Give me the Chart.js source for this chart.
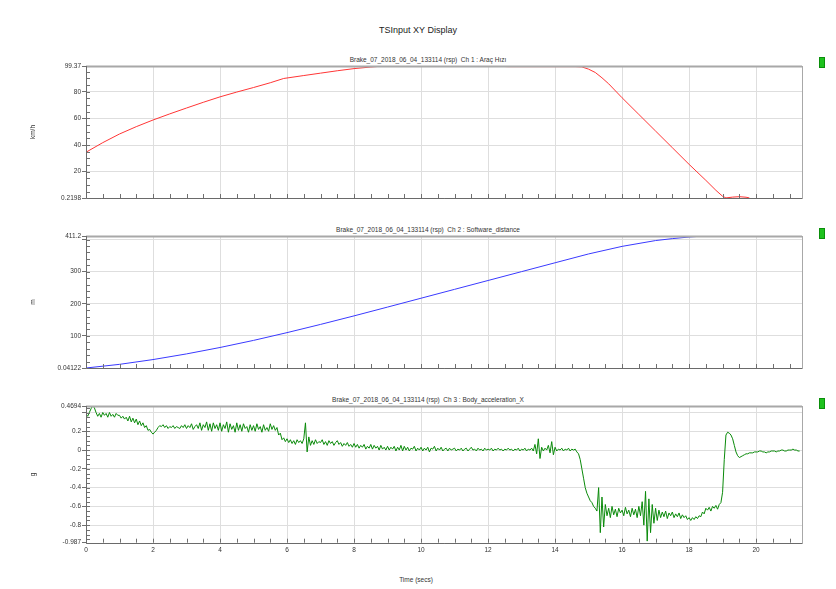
<!DOCTYPE html>
<html lang="en">
<head>
<meta charset="UTF-8">
<title>TSInput XY Display</title>
<script src="https://cdn.jsdelivr.net/npm/chart.js"></script>
<style>
  body { margin: 0; background: #fff; font-family: "Liberation Sans", Arial, sans-serif; }
  #page { position: relative; width: 836px; height: 589px; overflow: hidden; }
  .box { position: absolute; left: 20px; width: 816px; }
  .mark { position: absolute; left: 819px; width: 4px; height: 9px; background: #1ec21e; border: 1px solid #0b8f0b; }
  .sub { position: absolute; left: 228px; width: 400px; text-align: center; font-size: 6.5px; line-height: 8px; color: #333; white-space: pre; }
  #mainTitle { position: absolute; top: 25px; left: 0; width: 836px; text-align: center; font-size: 9px; color: #222; }
  #xTitle { position: absolute; top: 576px; left: 0; width: 832px; text-align: center; font-size: 6.5px; color: #333; }
</style>
</head>
<body>
<div id="page">
  <div id="mainTitle">TSInput XY Display</div>
  <div class="sub" id="sub1" style="top:55.5px;"></div>
  <div class="sub" id="sub2" style="top:226px;"></div>
  <div class="sub" id="sub3" style="top:396px;"></div>
  <div class="box" style="top:48px;height:160px;"><canvas id="speedChart"></canvas></div>
  <div class="box" style="top:218px;height:160px;"><canvas id="distChart"></canvas></div>
  <div class="box" style="top:388px;height:173px;"><canvas id="accChart"></canvas></div>
  <div class="mark" style="top:57px;"></div>
  <div class="mark" style="top:228px;"></div>
  <div class="mark" style="top:398px;"></div>
  <div id="xTitle">Time (secs)</div>
</div>

<script>
// ---- data ----
const fileName = 'Brake_07_2018_06_04_133114 (rsp)';
const timeMax = 21.37;
const timeTicks = [0, 2, 4, 6, 8, 10, 12, 14, 16, 18, 20];

// Ch 1 : vehicle speed (km/h)
const speedName = 'Ch 1 : Araç Hızı';
const speedMin = 0.2198, speedMax = 99.37;
const speedTicks = [20, 40, 60, 80];
const speedT = [0, 0.5, 1, 1.5, 2, 2.5, 3, 3.5, 4, 4.5, 5, 5.5, 5.9, 6.5, 7, 7.5, 8, 8.5, 8.9, 10, 12, 12.6, 14, 14.6, 14.8,
  15, 15.2, 15.4, 15.6, 16, 16.5, 17, 17.5, 18, 18.5, 18.8, 19, 19.1, 19.3, 19.5, 19.7, 19.8];
const speedV = [34.6, 41.8, 48.3, 53.8, 58.8, 63.4, 67.8, 72.1, 76.2, 79.8, 83.2, 86.8, 90.0, 92.2, 94.0, 95.8, 97.4, 98.6, 99.37, 99.37, 99.37, 98.9, 98.9, 98.9, 98.7,
  97.0, 94.5, 90.5, 86.0, 75.5, 63.0, 50.5, 38.0, 25.5, 13.5, 6.0, 1.5, 0.3, 0.9, 1.2, 0.8, 0.3];

// Ch 2 : distance (m)
const distName = 'Ch 2 : Software_distance';
const distMin = 0.04122, distMax = 411.2;
const distTicks = [100, 200, 300, 400];
const distT = [0, 1, 2, 3, 4, 5, 6, 7, 8, 9, 10, 11, 12, 13, 14, 15, 16, 17, 17.5, 18, 18.3, 18.6];
const distV = [0.04, 11.4, 26.3, 43.9, 63.9, 86.0, 110.2, 135.8, 162.4, 189.8, 217.4, 245.0, 272.6, 300.2, 327.8, 355.3, 378.9, 397.0, 403.0, 408.0, 410.2, 411.2];

// Ch 3 : body acceleration X (g), one sample every 0.05 s, one line per second
const accName = 'Ch 3 : Body_acceleration_X';
const accMin = -0.987, accMax = 0.4694;
const accTicks = [-0.8, -0.6, -0.4, -0.2, 0, 0.2, 0.4];
const accStep = 0.05;
const accV = [
  0.38, 0.36, 0.40, 0.44, 0.47, 0.45, 0.40, 0.36, 0.39, 0.35, 0.40, 0.37, 0.39, 0.35, 0.40, 0.36, 0.38, 0.35, 0.39, 0.37,
  0.37, 0.34, 0.36, 0.33, 0.35, 0.31, 0.36, 0.30, 0.34, 0.29, 0.33, 0.27, 0.31, 0.26, 0.29, 0.24, 0.26, 0.21, 0.22, 0.19,
  0.17, 0.19, 0.21, 0.24, 0.26, 0.25, 0.27, 0.24, 0.26, 0.23, 0.25, 0.24, 0.26, 0.23, 0.25, 0.24, 0.23, 0.26, 0.24, 0.27,
  0.23, 0.26, 0.24, 0.28, 0.22, 0.25, 0.27, 0.23, 0.29, 0.21, 0.27, 0.24, 0.30, 0.21, 0.28, 0.20, 0.29, 0.23, 0.27, 0.21,
  0.29, 0.20, 0.27, 0.23, 0.30, 0.19, 0.28, 0.22, 0.26, 0.19, 0.29, 0.21, 0.27, 0.20, 0.28, 0.23, 0.25, 0.19, 0.27, 0.21,
  0.26, 0.20, 0.28, 0.22, 0.25, 0.19, 0.27, 0.21, 0.24, 0.20, 0.28, 0.22, 0.26, 0.21, 0.24, 0.16, 0.18, 0.11, 0.13, 0.09,
  0.12, 0.08, 0.11, 0.07, 0.10, 0.06, 0.11, 0.08, 0.10, 0.07, 0.12, 0.29, -0.02, 0.14, 0.05, 0.10, 0.06, 0.11, 0.07, 0.09,
  0.08, 0.11, 0.06, 0.09, 0.05, 0.10, 0.07, 0.09, 0.05, 0.08, 0.10, 0.06, 0.08, 0.04, 0.07, 0.05, 0.08, 0.04, 0.06, 0.03,
  0.07, 0.03, 0.06, 0.02, 0.05, 0.03, 0.06, 0.01, 0.04, 0.02, 0.06, 0.01, 0.05, 0.02, 0.04, 0.00, 0.05, 0.01, 0.03, 0.00,
  0.04, 0.00, 0.03, 0.01, 0.04, -0.01, 0.03, 0.00, 0.05, -0.01, 0.04, 0.00, 0.03, -0.01, 0.02, 0.01, 0.04, -0.01, 0.02, 0.00,
  0.03, -0.01, 0.02, 0.00, 0.03, -0.02, 0.02, 0.01, 0.04, -0.01, 0.02, 0.00, 0.03, -0.01, 0.01, 0.02, -0.01, 0.02, 0.00, 0.01,
  0.02, -0.01, 0.01, 0.00, 0.02, -0.01, 0.01, 0.02, -0.01, 0.01, 0.03, 0.00, 0.01, -0.01, 0.02, 0.00, 0.01, -0.01, 0.02, 0.00,
  0.01, 0.00, 0.02, -0.01, 0.01, 0.00, 0.02, 0.00, 0.01, -0.01, 0.01, 0.00, 0.02, 0.00, 0.01, -0.01, 0.01, 0.00, 0.02, -0.01,
  0.01, 0.00, 0.02, -0.01, 0.01, 0.00, 0.02, -0.01, 0.06, -0.04, 0.12, -0.09, 0.03, -0.01, 0.02, 0.00, 0.05, -0.03, 0.09, -0.05,
  0.03, -0.01, 0.01, 0.00, 0.02, -0.01, 0.01, 0.00, 0.02, -0.01, 0.01, 0.00, 0.01, -0.02, -0.04, -0.10, -0.20, -0.30, -0.40, -0.46,
  -0.50, -0.54, -0.56, -0.60, -0.62, -0.65, -0.40, -0.88, -0.50, -0.82, -0.58, -0.70, -0.62, -0.72, -0.60, -0.69, -0.63, -0.71, -0.62, -0.67,
  -0.64, -0.70, -0.61, -0.68, -0.64, -0.71, -0.62, -0.69, -0.63, -0.72, -0.60, -0.70, -0.55, -0.80, -0.44, -0.97, -0.52, -0.88, -0.58, -0.78,
  -0.62, -0.75, -0.64, -0.72, -0.66, -0.71, -0.65, -0.73, -0.67, -0.70, -0.66, -0.72, -0.68, -0.71, -0.67, -0.73, -0.69, -0.72, -0.70, -0.74,
  -0.72, -0.75, -0.72, -0.74, -0.71, -0.73, -0.70, -0.71, -0.66, -0.68, -0.62, -0.64, -0.61, -0.65, -0.60, -0.62, -0.59, -0.63, -0.58, -0.56,
  -0.45, -0.10, 0.16, 0.19, 0.18, 0.16, 0.12, 0.05, -0.02, -0.06, -0.08, -0.07, -0.06, -0.05, -0.04, -0.04, -0.03, -0.03, -0.03, -0.02,
  -0.02, -0.02, -0.01, -0.01, -0.02, -0.02, -0.03, -0.02, -0.02, -0.01, -0.01, -0.01, -0.02, -0.01, -0.01, 0.00, 0.00, -0.01, -0.01, 0.00,
  0.00, 0.00, 0.01, 0.00, 0.00, -0.01, -0.01
];

// ---- drawing ----
const FONT = '"Liberation Sans", Arial, sans-serif';

// minor ticks (inward) and plot frame, drawn over the data
const framePlugin = {
  id: 'frame',
  afterDatasetsDraw(chart, args, opts) {
    const { ctx, chartArea: a, scales } = chart;
    ctx.save();
    ctx.strokeStyle = '#707070';
    ctx.lineWidth = 1;
    ctx.beginPath();
    const n0 = Math.ceil(opts.min / opts.minorY), n1 = Math.floor(opts.max / opts.minorY);
    for (let i = n0; i <= n1; i++) {
      const y = Math.round(scales.y.getPixelForValue(i * opts.minorY)) + 0.5;
      ctx.moveTo(a.left, y); ctx.lineTo(a.left + 4, y);
    }
    for (let i = 1; i * 0.5 < timeMax; i++) {
      const x = Math.round(scales.x.getPixelForValue(i * 0.5)) + 0.5;
      ctx.moveTo(x, a.bottom); ctx.lineTo(x, a.bottom - 4);
    }
    ctx.stroke();
    // frame
    ctx.strokeStyle = '#a8a8a8';
    ctx.strokeRect(Math.round(a.left) + 0.5, Math.round(a.top) + 0.5, Math.round(a.right - a.left), Math.round(a.bottom - a.top));
    ctx.lineWidth = 2;
    ctx.beginPath();
    ctx.moveTo(a.left, Math.round(a.top) + 0.5); ctx.lineTo(a.right, Math.round(a.top) + 0.5);
    ctx.stroke();
    ctx.lineWidth = 1;
    ctx.strokeStyle = '#6a6a6a';
    ctx.beginPath();
    ctx.moveTo(Math.round(a.left) + 0.5, a.top); ctx.lineTo(Math.round(a.left) + 0.5, Math.round(a.bottom) + 0.5);
    ctx.lineTo(a.right, Math.round(a.bottom) + 0.5);
    ctx.stroke();
    ctx.restore();
  }
};

function makeChart(id, subId, cfg) {
  document.getElementById(subId).textContent = fileName + '  ' + cfg.name;
  const pts = cfg.t.map((t, i) => ({ x: t, y: cfg.v[i] }));
  const yTickList = [cfg.min].concat(cfg.ticks, [cfg.max]);
  new Chart(document.getElementById(id), {
    type: 'line',
    data: {
      datasets: [{
        data: pts,
        borderColor: cfg.color,
        borderWidth: 1,
        pointRadius: 0,
        tension: 0,
        fill: false
      }]
    },
    options: {
      responsive: true,
      maintainAspectRatio: false,
      animation: false,
      layout: { padding: { top: 18, right: 34, bottom: cfg.bottomPad, left: 0 } },
      plugins: {
        legend: { display: false },
        tooltip: { enabled: false },
        frame: { min: cfg.min, max: cfg.max, minorY: cfg.minorY }
      },
      scales: {
        x: {
          type: 'linear',
          min: 0,
          max: timeMax,
          afterBuildTicks: (s) => { s.ticks = timeTicks.map(v => ({ value: v })); },
          grid: {
            drawTicks: false,
            color: (c) => (c.tick && c.tick.value === 0) ? 'rgba(0,0,0,0)' : '#dedede'
          },
          border: { display: false },
          ticks: {
            display: cfg.showX,
            padding: 4,
            color: '#333',
            font: { family: FONT, size: 6.5 },
            maxRotation: 0
          }
        },
        y: {
          type: 'linear',
          min: cfg.min,
          max: cfg.max,
          afterBuildTicks: (s) => { s.ticks = yTickList.map(v => ({ value: v })); },
          afterFit: (s) => { s.width = 66; },
          grid: {
            drawTicks: true,
            tickLength: 4,
            tickColor: '#707070',
            color: (c) => (c.tick && (c.tick.value === cfg.min || c.tick.value === cfg.max)) ? 'rgba(0,0,0,0)' : '#dedede'
          },
          border: { display: false },
          title: {
            display: true,
            text: cfg.unit,
            color: '#333',
            font: { family: FONT, size: 6.5 },
            padding: { top: 9, bottom: 0 }
          },
          ticks: {
            padding: 1,
            color: '#333',
            font: { family: FONT, size: 6.5 },
            callback: (v) => {
              if (v === cfg.min || v === cfg.max) return String(v);
              const span = cfg.max - cfg.min;
              if ((cfg.max - v) / span < 0.05 || (v - cfg.min) / span < 0.05) return '';
              return String(v);
            }
          }
        }
      }
    },
    plugins: [framePlugin]
  });
}

makeChart('speedChart', 'sub1', {
  name: speedName, unit: 'km/h', t: speedT, v: speedV, min: speedMin, max: speedMax,
  ticks: speedTicks, minorY: 5, color: '#ff3535', showX: false, bottomPad: 10
});
makeChart('distChart', 'sub2', {
  name: distName, unit: 'm', t: distT, v: distV, min: distMin, max: distMax,
  ticks: distTicks, minorY: 20, color: '#3a3aff', showX: false, bottomPad: 10
});
makeChart('accChart', 'sub3', {
  name: accName, unit: 'g', t: accV.map((_, i) => Math.round(i * accStep * 100) / 100), v: accV, min: accMin, max: accMax,
  ticks: accTicks, minorY: 0.05, color: '#0a8a0a', showX: true, bottomPad: 2.5
});
</script>
</body>
</html>
